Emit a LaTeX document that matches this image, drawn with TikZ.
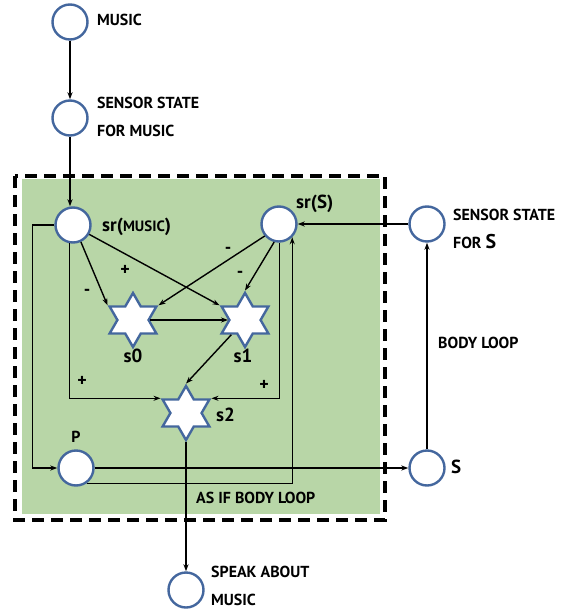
\documentclass[tikz,border=0pt]{standalone}
\usepackage{fontspec}
\setmainfont{PT Sans}
\usetikzlibrary{shapes.geometric,arrows.meta}
\definecolor{boxgreen}{HTML}{B8D6A7}
\definecolor{nodeblue}{HTML}{44679E}
\begin{document}
\begin{tikzpicture}[x=1bp,y=-1bp,
  circ/.style={circle,draw=nodeblue,fill=white,line width=2.4bp,minimum size=35bp,inner sep=0pt},
  starn/.style={star,star points=6,star point ratio=1.732,draw=nodeblue,fill=white,line width=2.4bp,minimum size=54bp,inner sep=0pt},
  arr/.style={-{Stealth[length=7bp,width=5bp]},line width=1.4bp},
  lbl/.style={font=\bfseries\fontsize{16}{28}\selectfont,inner sep=0pt,align=left},
  big/.style={font=\bfseries\fontsize{19}{20}\selectfont,inner sep=0pt},
  sgn/.style={font=\bfseries\fontsize{18}{18}\selectfont,inner sep=0pt}]
\useasboundingbox (0,0) rectangle (566,612);
% box
\fill[boxgreen] (22,179) rectangle (380,514);
\draw[line width=3.2bp,dash pattern=on 12bp off 7bp] (15,176) rectangle (385,520);
% nodes
\node[circ] (music) at (70,22) {};
\node[circ] (sm) at (70,118) {};
\node[circ] (srm) at (73,225) {};
\node[circ] (srs) at (279,224) {};
\node[circ] (ss) at (427,224) {};
\node[circ] (p) at (76,468) {};
\node[circ] (S) at (427,468) {};
\node[circ] (speak) at (186,590) {};
\node[starn] (s0) at (133,320) {};
\node[starn] (s1) at (245,320) {};
\node[starn] (s2) at (186,413) {};
% labels
\node[lbl,anchor=west] (tmusic) at (97,20) {MUSIC};
\node[lbl,anchor=west] (tsm) at (97,117) {SENSOR STATE\\FOR MUSIC};
\node[big,anchor=west] (tsrm) at (102,227) {sr({\fontsize{15}{16}\selectfont MUSIC})};
\node[big,anchor=west] (tsrs) at (296,204) {sr(S)};
\node[lbl,anchor=west] (tss) at (453,229) {SENSOR STATE\\FOR {\fontsize{20}{20}\selectfont S}};
\node[lbl,anchor=west] (tbody) at (438,343) {BODY LOOP};
\node[big,anchor=west] (tS) at (451,467) {S};
\node[lbl] (tp) at (76,437) {P};
\node[big] (ts0) at (133,356) {s0};
\node[big] (ts1) at (243,356) {s1};
\node[big,anchor=west] (ts2) at (216,415) {s2};
\node[lbl,anchor=west] (tasif) at (196,498) {AS IF BODY LOOP};
\node[lbl,anchor=west] (tspeak) at (211,586) {SPEAK ABOUT\\MUSIC};
% signs
\node[sgn] (g1) at (125,270) {+};
\node[sgn] (g2) at (87,292) {-};
\node[sgn] (g3) at (228,250) {-};
\node[sgn] (g4) at (240,274) {-};
\node[sgn] (g5) at (82,381) {+};
\node[sgn] (g6) at (264,385) {+};
% connectors
\draw[arr] (music) -- (sm);
\draw[arr] (sm.south) -- (sm.south |- srm.north);
\draw[arr] (srm.-65) -- (s0.150);
\draw[arr] (srm.-30) -- (s1.150);
\draw[arr] (srs.-140) -- (s0.30);
\draw[arr] (srs.-105) -- (s1.north);
\draw[arr] (s0) -- (s1);
\draw[arr] (s1) -- (s2.north);
\draw[arr] (srm.-100) |- (s2.150);
\draw[arr] (srs.-88) |- (s2.30);
\draw[arr] (srm.west) -- ++(-22,0) |- (p.west);
\draw[arr] (p.east) -- (S.west);
\draw[arr] (p.-55) -| (srs.-45);
\draw[arr] (S) -- (ss);
\draw[arr] (ss) -- (srs);
\draw[arr] (s2.south) -- (speak.north);
\end{tikzpicture}
\end{document}
